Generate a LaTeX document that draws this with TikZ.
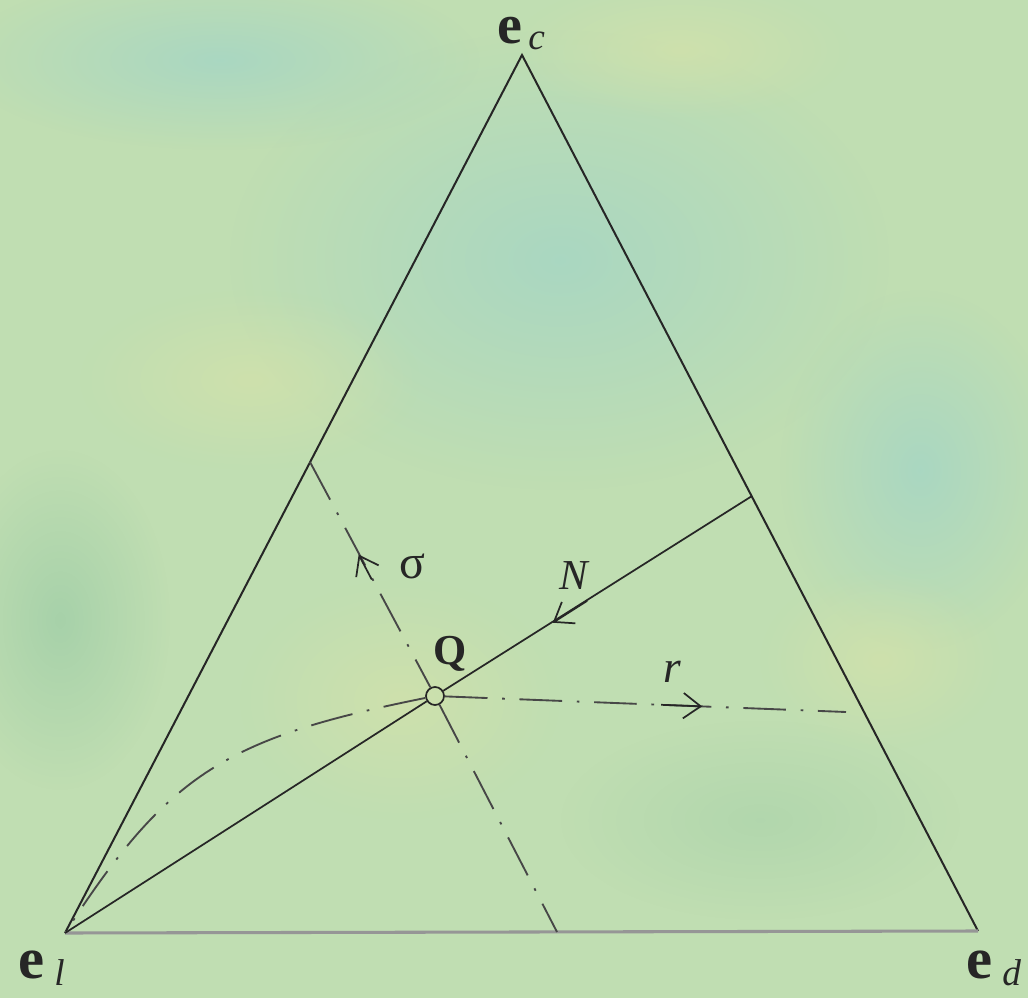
\documentclass[tikz,border=0pt]{standalone}
\usepackage{fontspec}
\setmainfont{Liberation Serif}
\usetikzlibrary{arrows.meta,calc,fadings}
\tikzfading[name=softblob,inner color=transparent!0,outer color=transparent!100]
\definecolor{bgbase}{RGB}{192,222,178}
\definecolor{bgblue}{RGB}{160,212,200}
\definecolor{bgyellow}{RGB}{212,226,170}
\definecolor{bgdark}{RGB}{156,204,166}
\definecolor{ink}{RGB}{38,38,38}
\definecolor{basegray}{RGB}{150,150,150}
\begin{document}
\begin{tikzpicture}[x=0.75pt,y=-0.75pt,
  edge/.style={draw=ink,line width=1.5pt},
  dashdot/.style={draw=ink!85,line width=1.4pt,dash pattern=on 32pt off 11pt on 2pt off 11pt},
  barb/.style={draw=ink,line width=1.3pt,-{Straight Barb[length=13pt,width=19pt]}},
  blob/.style={path fading=softblob,opacity=0.7},
  lbl/.style={inner sep=0pt,text=ink},
  vlbl/.style={lbl,anchor=base west,font=\fontsize{44}{44}\selectfont\bfseries},
  sublbl/.style={lbl,anchor=base west,font=\fontsize{28}{28}\selectfont\itshape}]
% background
\useasboundingbox (0,0) rectangle (1028,998);
\fill[bgbase] (0,0) rectangle (1028,998);
\fill[bgblue,blob] (560,260) ellipse (330 and 230);
\fill[bgblue,blob] (220,60) ellipse (260 and 90);
\fill[bgyellow,blob] (680,50) ellipse (170 and 70);
\fill[bgyellow,blob] (250,380) ellipse (170 and 90);
\fill[bgdark,blob] (60,620) ellipse (110 and 170);
\fill[bgblue,blob] (920,470) ellipse (140 and 180);
\fill[bgyellow,blob] (880,660) ellipse (120 and 90);
\fill[bgdark,blob,opacity=0.4] (760,820) ellipse (200 and 100);
\fill[bgyellow,blob] (400,700) ellipse (160 and 120);
% key points
\coordinate (ec) at (522,55);
\coordinate (el) at (65,933);
\coordinate (ed) at (978,931);
\coordinate (Nf) at (752,496);
\coordinate (sT) at (310,462);
\coordinate (sB) at (557,932);
\coordinate (rE) at (846,712);
\node[circle,draw=ink,line width=1.3pt,inner sep=0pt,minimum size=13.5pt] (Q) at (435,696) {};
% triangle
\draw[edge] (el) -- (ec) -- (ed);
\draw[draw=basegray,line width=2.3pt] (el) -- (ed);
% N line
\draw[edge,line width=1.3pt] (Nf) -- (Q);
\draw[edge,line width=1.3pt] (Q) -- (el);
\draw[barb] ($(Nf)!0.24!(el)$) -- ($(Nf)!0.29!(el)$);
% sigma line
\draw[dashdot] (sT) -- (Q);
\draw[dashdot] (Q) -- (sB);
\draw[barb] ($(sT)!0.25!(sB)$) -- ($(sT)!0.197!(sB)$);
% r line
\draw[dashdot] (Q) -- (rE);
\draw[barb] ($(Q)!0.55!(rE)$) -- ($(Q)!0.65!(rE)$);
% curved dash-dot
\draw[dashdot] (Q) .. controls (227,738) and (169,772) .. (el);
% vertex labels
\node[vlbl,font=\fontsize{42}{42}\selectfont\bfseries] (ecl) at (497,44) {e};
\node[sublbl] (ecs) at (528,50) {c};
\node[vlbl] (ell) at (18,978) {e};
\node[sublbl] (els) at (54,985) {l};
\node[vlbl] (edl) at (966,978) {e};
\node[sublbl] (eds) at (1002,985) {d};
% other labels
\node[lbl,font=\fontsize{32}{32}\selectfont\bfseries] (Ql) at (450,654) {Q};
\node[lbl,font=\fontsize{32}{32}\selectfont\itshape] (Nl) at (574,576) {N};
\node[lbl,font=\fontsize{36}{36}\selectfont] (sl) at (412,566) {σ};
\node[lbl,font=\fontsize{34}{34}\selectfont\itshape] (rl) at (672,672) {r};
\end{tikzpicture}
\end{document}
